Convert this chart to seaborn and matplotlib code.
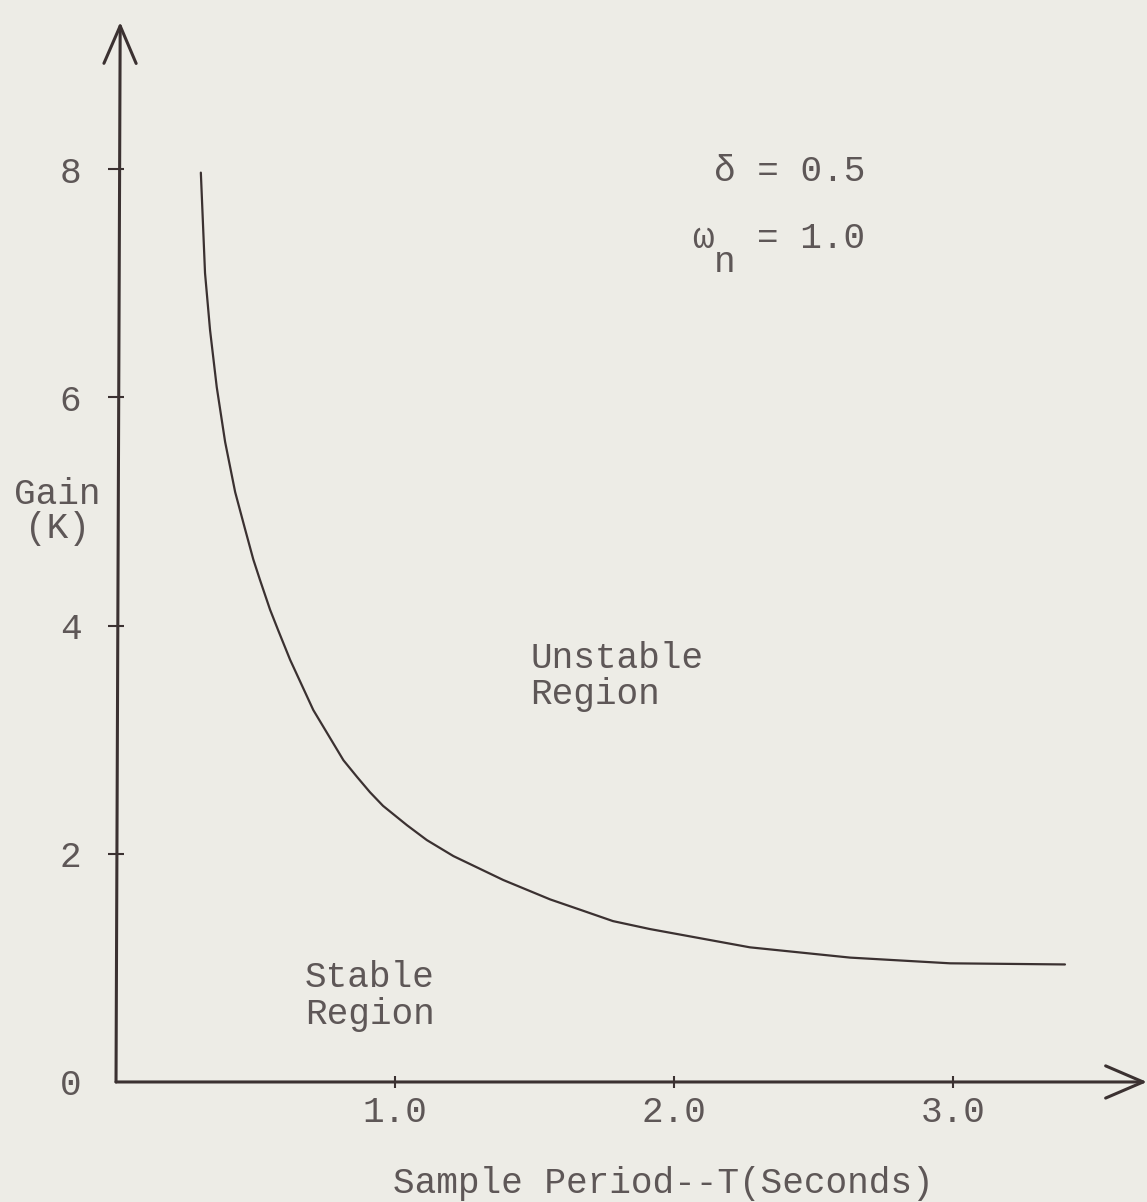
import matplotlib
matplotlib.use('Agg')
import matplotlib.pyplot as plt
import seaborn as sns
import pandas as pd

# Valores (periodo de amostragem T x ganho critico K)
periodo = [0.304, 0.319, 0.337, 0.361, 0.391, 0.427, 0.462, 0.492, 0.516, 0.552,
           0.581, 0.624, 0.707, 0.815, 0.864, 0.910, 0.957, 1.043, 1.114, 1.209,
           1.388, 1.556, 1.663, 1.781, 1.914, 2.272, 2.631, 2.989, 3.401]
ganho = [7.97, 7.09, 6.59, 6.09, 5.61, 5.17, 4.85, 4.58, 4.40, 4.14,
         3.96, 3.70, 3.26, 2.82, 2.673, 2.54, 2.42, 2.25, 2.12, 1.98,
         1.77, 1.60, 1.51, 1.41, 1.34, 1.18, 1.09, 1.04, 1.03]

ticks_x = [1.0, 2.0, 3.0]
labels_x = ['1.0', '2.0', '3.0']
ticks_y = [0, 2, 4, 6, 8]
labels_y = ['0', '2', '4', '6', '8']

fundo = '#edece6'
tinta = '#3b3131'
texto = '#5e5757'

sns.set_theme(style='white')
plt.rcParams['font.family'] = ['Liberation Mono', 'DejaVu Sans Mono', 'DejaVu Sans']
plt.rcParams['text.color'] = texto
fs = 26

df = pd.DataFrame({'T': periodo, 'K': ganho})

fig = plt.figure(figsize=(11.47, 12.02), dpi=100, facecolor=fundo)
ax = fig.add_axes([0, 0, 1, 1])
ax.set_facecolor(fundo)

sns.lineplot(data=df, x='T', y='K', sort=False, estimator=None,
             color=tinta, linewidth=1.6, ax=ax)
for ln in ax.lines:
    ln.set_solid_joinstyle('round')

ax.set_xlim(-0.4158, 3.695)
ax.set_ylim(-1.052, 9.483)

# eixos com setas
for s in ax.spines.values():
    s.set_visible(False)
ax.spines['left'].set_position(('data', 0))
ax.spines['bottom'].set_position(('data', 0))
seta = dict(arrowstyle='->,head_length=1.35,head_width=0.58', color=tinta,
            lw=2.2, shrinkA=0, shrinkB=0, mutation_scale=20)
ax.annotate('', xy=(0.015, 9.29), xytext=(0, 0), arrowprops=seta)
ax.annotate('', xy=(3.695, 0), xytext=(0, 0), arrowprops=seta)

ax.set_xticks(ticks_x, labels_x)
ax.set_yticks(ticks_y, labels_y)
ax.tick_params(axis='y', direction='inout', length=12, width=1.5, color=tinta,
               pad=19, labelsize=fs, labelcolor=texto, left=True)
ax.tick_params(axis='x', direction='inout', length=8.6, width=1.5, color=tinta,
               pad=5, labelsize=fs, labelcolor=texto, bottom=True)
ax.yaxis.get_major_ticks()[0].tick1line.set_visible(False)
ax.set_xlabel('')
ax.set_ylabel('')

# textos
ax.text(2.143, 7.90, 'δ = 0.5', fontsize=fs, va='baseline', ha='left')
ax.text(2.065, 7.31, 'ω', fontsize=fs, va='baseline', ha='left')
ax.text(2.142, 7.10, 'n', fontsize=fs, va='baseline', ha='left')
ax.text(2.297, 7.31, '= 1.0', fontsize=fs, va='baseline', ha='left')
ax.text(1.484, 3.63, 'Unstable', fontsize=fs, va='baseline', ha='left')
ax.text(1.484, 3.31, 'Region', fontsize=fs, va='baseline', ha='left')
ax.text(0.677, 0.83, 'Stable', fontsize=fs, va='baseline', ha='left')
ax.text(0.677, 0.51, 'Region', fontsize=fs, va='baseline', ha='left')
ax.text(-0.211, 5.07, 'Gain', fontsize=fs, va='baseline', ha='center')
ax.text(-0.211, 4.77, '(K)', fontsize=fs, va='baseline', ha='center')
ax.text(0.993, -0.973, 'Sample Period--T(Seconds)', fontsize=fs,
        va='baseline', ha='left')

fig.savefig('out.png', dpi=100, facecolor=fundo)
